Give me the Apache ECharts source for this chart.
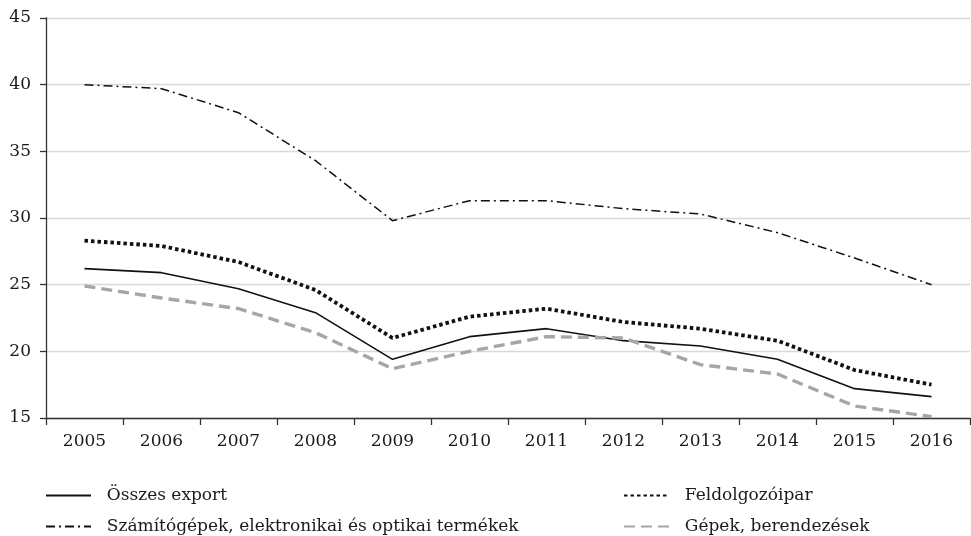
<!DOCTYPE html>
<html>
<head>
<meta charset="utf-8">
<script src="https://cdn.jsdelivr.net/npm/echarts@6/dist/echarts.min.js"></script>
<style>
  html, body { margin: 0; padding: 0; background: #fff; }
  #chart { width: 971px; height: 536px; }
</style>
</head>
<body>
<div id="chart"></div>
<script>
var years = ["2005", "2006", "2007", "2008", "2009", "2010", "2011", "2012", "2013", "2014", "2015", "2016"];
var osszesExport = [26.2, 25.9, 24.7, 22.9, 19.4, 21.1, 21.7, 20.8, 20.4, 19.4, 17.2, 16.6];
var feldolgozoipar = [28.3, 27.9, 26.7, 24.6, 21.0, 22.6, 23.2, 22.2, 21.7, 20.8, 18.6, 17.5];
var szamitogepek = [40.0, 39.7, 37.9, 34.3, 29.8, 31.3, 31.3, 30.7, 30.3, 28.9, 27.0, 25.0];
var gepek = [24.9, 24.0, 23.2, 21.4, 18.7, 20.0, 21.1, 21.0, 19.0, 18.3, 15.9, 15.1];

var nevek = ["Összes export", "Feldolgozóipar", "Számítógépek, elektronikai és optikai termékek", "Gépek, berendezések"];
var balOszlop = [nevek[0], nevek[2]];

var font = "'DejaVu Serif', 'Liberation Serif', serif";

var myChart = echarts.init(document.getElementById("chart"));
myChart.setOption({
  animation: false,
  textStyle: { fontFamily: font, color: "#1a1a1a" },
  grid: { left: 46, right: 1, top: 18, bottom: 118, containLabel: false },
  xAxis: {
    type: "category",
    data: years,
    boundaryGap: true,
    axisLine: { lineStyle: { color: "#333", width: 1.3 } },
    axisTick: { show: true, length: 7, lineStyle: { color: "#333", width: 1.3 } },
    axisLabel: { color: "#1a1a1a", fontSize: 17, fontFamily: font, margin: 15 },
    splitLine: { show: false }
  },
  yAxis: {
    type: "value",
    min: 15,
    max: 45,
    interval: 5,
    axisLine: { show: true, lineStyle: { color: "#333", width: 1.3 } },
    axisTick: { show: true, length: 6, lineStyle: { color: "#333", width: 1.3 } },
    axisLabel: { color: "#1a1a1a", fontSize: 17, fontFamily: font, margin: 15 },
    splitLine: { show: true, lineStyle: { color: "#d9d9d9", width: 1.3 } }
  },
  legend: {
    orient: "horizontal",
    align: "left",
    left: 40,
    top: 482,
    width: 900,
    padding: 5,
    itemGap: 14,
    itemWidth: 45,
    itemHeight: 14,
    itemStyle: { opacity: 0 },
    data: nevek,
    formatter: function (name) {
      return (balOszlop.indexOf(name) >= 0 ? "{a|" : "{b|") + "  " + name + "}";
    },
    textStyle: {
      fontFamily: font, fontSize: 17, lineHeight: 16, color: "#1a1a1a",
      rich: {
        a: { fontFamily: font, fontSize: 17, lineHeight: 16, width: 513 },
        b: { fontFamily: font, fontSize: 17, lineHeight: 16, width: 250 }
      }
    }
  },
  series: [
    {
      name: nevek[0],
      type: "line",
      data: osszesExport,
      symbol: "none",
      itemStyle: { color: "#111" },
      lineStyle: { color: "#111", width: 1.6, type: "solid" }
    },
    {
      name: nevek[1],
      type: "line",
      data: feldolgozoipar,
      symbol: "none",
      itemStyle: { color: "#111" },
      lineStyle: { color: "#111", width: 3.8, type: [3.5, 3] }
    },
    {
      name: nevek[2],
      type: "line",
      data: szamitogepek,
      symbol: "none",
      itemStyle: { color: "#111" },
      lineStyle: { color: "#111", width: 1.5, type: [9, 4, 2, 4] }
    },
    {
      name: nevek[3],
      type: "line",
      data: gepek,
      symbol: "none",
      itemStyle: { color: "#a6a6a6" },
      lineStyle: { color: "#a6a6a6", width: 3.4, type: [11, 6] }
    }
  ]
});
</script>
</body>
</html>
